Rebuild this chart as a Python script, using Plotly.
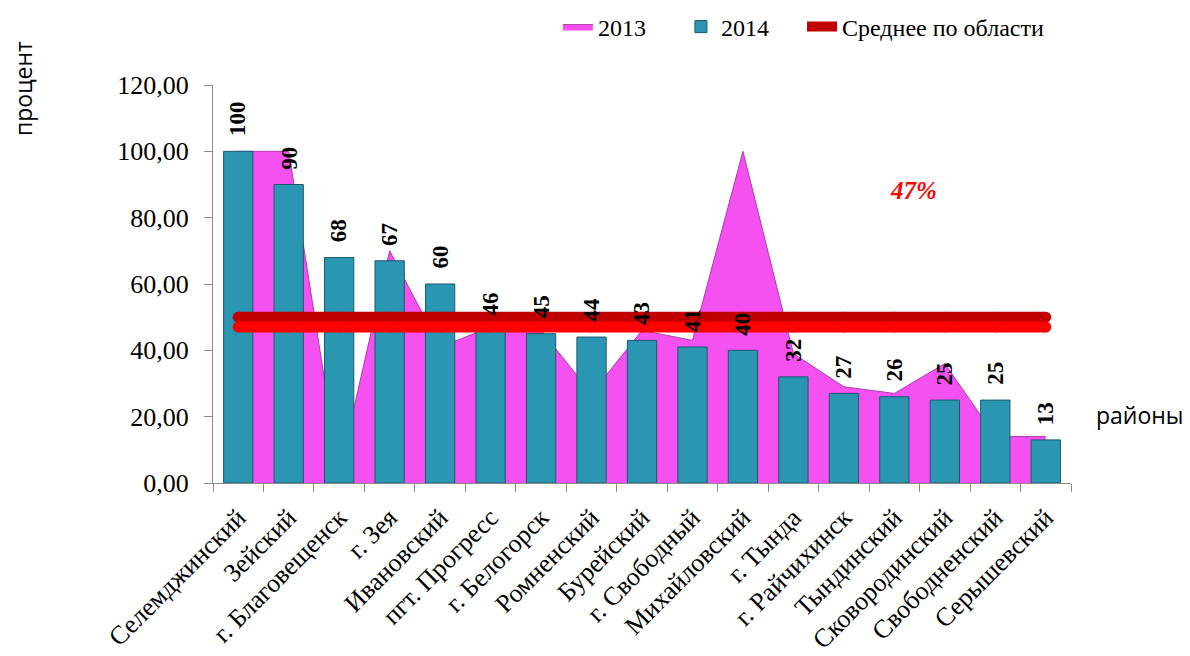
import plotly.graph_objects as go

# Data
districts = [
    'Селемджинский', 'Зейский', 'г. Благовещенск', 'г. Зея', 'Ивановский',
    'пгт. Прогресс', 'г. Белогорск', 'Ромненский', 'Бурейский', 'г. Свободный',
    'Михайловский', 'г. Тында', 'г. Райчихинск', 'Тындинский', 'Сковородинский',
    'Свободненский', 'Серышевский'
]
values_2013 = [100, 100, 3, 70, 41, 47, 46, 27, 46, 43, 100, 39, 29, 27, 36, 14, 14]
values_2014 = [100, 90, 68, 67, 60, 46, 45, 44, 43, 41, 40, 32, 27, 26, 25, 25, 13]
region_avg = 50       # dark red line, "Среднее по области"
region_avg_2014 = 47  # bright red line, "47%"

SERIF = 'Liberation Serif'
SANS = 'Open Sans'
DARK_RED = '#C00000'
RED = '#FF0000'

fig = go.Figure()

# 2013 - area on the base axis (drawn first, behind the bars)
fig.add_trace(go.Scatter(
    x=districts, y=values_2013, name='2013',
    mode='lines', fill='tozeroy',
    fillcolor='#F550F0',
    line=dict(color='#B03AB0', width=1),
))

# 2014 - bars on an overlay axis so they sit over the area
fig.add_trace(go.Bar(
    x=districts, y=values_2014, name='2014', yaxis='y2',
    marker_color='#2A96B1',
    marker_line_color='#1A5870',
    marker_line_width=1,
))

# average lines on a second overlay, above the bars
fig.add_trace(go.Scatter(
    x=districts, y=[region_avg] * len(districts), name='Среднее по области',
    mode='lines', yaxis='y3', legend='legend2',
    line=dict(color=DARK_RED, width=11),
))
fig.add_trace(go.Scatter(
    x=districts, y=[region_avg] * len(districts), yaxis='y3',
    mode='markers', showlegend=False, hoverinfo='skip',
    marker=dict(color=DARK_RED, size=11),
))
fig.add_trace(go.Scatter(
    x=districts, y=[region_avg_2014] * len(districts), name='47%',
    mode='lines+markers', yaxis='y3', showlegend=False,
    line=dict(color=RED, width=11),
    marker=dict(color=RED, size=11),
))

# data labels for 2014
for name, v in zip(districts, values_2014):
    fig.add_annotation(
        x=name, y=v, text=str(v), showarrow=False,
        textangle=-90, xanchor='center', yanchor='bottom', yshift=13,
        font=dict(family=SERIF, size=23, color='black', weight='bold'),
    )

fig.add_annotation(
    xref='paper', yref='paper', x=-0.2214, y=0.99,
    xanchor='center', yanchor='middle',
    text='процент', showarrow=False, textangle=-90,
    font=dict(family=SANS, size=23, color='black'),
)
fig.add_annotation(
    xref='paper', yref='paper', x=1.0804, y=0.171,
    xanchor='center', yanchor='middle',
    text='районы', showarrow=False,
    font=dict(family=SANS, size=23, color='black'),
)
fig.add_annotation(
    xref='paper', yref='paper', x=0.816, y=0.736,
    xanchor='center', yanchor='middle',
    text='<b><i>47%</i></b>', showarrow=False,
    font=dict(family=SERIF, size=25, color=RED),
)

axis_common = dict(
    showline=True, linecolor='#8C8C8C', linewidth=1,
    ticks='outside', ticklen=8, tickcolor='#8C8C8C',
    showgrid=False, zeroline=False, automargin=False,
)

legend_font = dict(family=SERIF, size=24, color='black')

fig.update_layout(
    width=1190, height=656,
    plot_bgcolor='white', paper_bgcolor='white',
    separators=', ',
    bargap=0.42,
    margin=dict(l=205, r=127, t=77, b=181),
    xaxis=dict(
        **axis_common,
        range=[-0.5, len(districts) - 0.5],
        tickson='boundaries', tickangle=-45,
        ticklabelstandoff=8,
        tickfont=dict(family=SERIF, size=26, color='black'),
    ),
    yaxis=dict(
        **axis_common,
        range=[0, 120], dtick=20, tickformat='.2f',
        ticklabelstandoff=10,
        tickfont=dict(family=SERIF, size=26, color='black'),
    ),
    yaxis2=dict(overlaying='y', range=[0, 120], visible=False),
    yaxis3=dict(overlaying='y', range=[0, 120], visible=False),
    legend=dict(
        orientation='h', x=0.402, xanchor='left',
        yref='container', y=0.971, yanchor='middle',
        entrywidth=78,
        font=legend_font,
        bgcolor='rgba(0,0,0,0)',
    ),
    legend2=dict(
        orientation='h', x=0.6865, xanchor='left',
        yref='container', y=0.971, yanchor='middle',
        font=legend_font,
        bgcolor='rgba(0,0,0,0)',
    ),
    showlegend=True,
)

fig.write_html('out.html')
